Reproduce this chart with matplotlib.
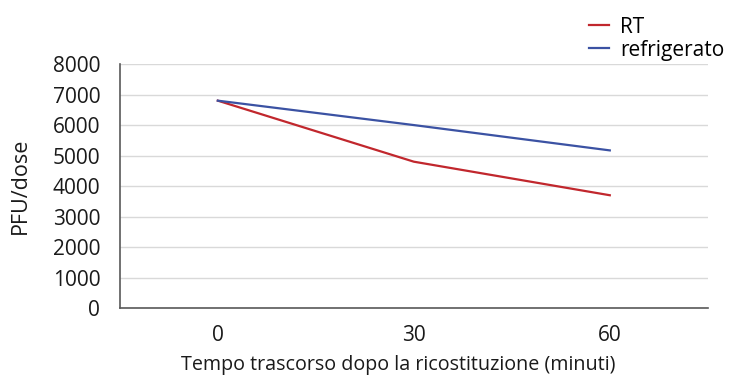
import numpy as np
import matplotlib.pyplot as plt

plt.rcParams['font.family'] = ['Open Sans', 'DejaVu Sans']

# tempo dopo la ricostituzione (minuti) e titolo PFU/dose
tempi = ['0', '30', '60']
pfu_rt = [6800, 4800, 3700]
pfu_frigo = [6800, 6000, 5170]
y_ticks = [0, 1000, 2000, 3000, 4000, 5000, 6000, 7000, 8000]

fig = plt.figure(figsize=(7.35, 3.79), dpi=100)
ax = fig.add_axes([0.163, 0.187, 0.800, 0.644])

x = np.arange(len(tempi))
ax.plot(x, pfu_rt, color='#c1272d', lw=1.6, label='RT')
ax.plot(x, pfu_frigo, color='#3b52a3', lw=1.6, label='refrigerato')

ax.set_xlim(-0.5, len(tempi) - 0.5)
ax.set_ylim(0, 8000)
ax.set_xticks(x)
ax.set_xticklabels(tempi)
ax.set_yticks(y_ticks)
ax.tick_params(length=0, labelsize=15, colors='#1a1a1a', pad=12)
ax.tick_params(axis='y', pad=14)

ax.grid(axis='y', color='#d9d9d9', lw=1)
ax.set_axisbelow(True)
for s in ['top', 'right']:
    ax.spines[s].set_visible(False)
for s in ['left', 'bottom']:
    ax.spines[s].set_color('#595959')
    ax.spines[s].set_linewidth(1.2)

ax.set_xlabel('Tempo trascorso dopo la ricostituzione (minuti)', fontsize=14.2, color='#1a1a1a')
ax.xaxis.set_label_coords(0.473, -0.19)
ax.set_ylabel('PFU/dose', fontsize=15.5, color='#1a1a1a')
ax.yaxis.set_label_coords(-0.152, 0.5)

ax.legend(loc='lower left', bbox_to_anchor=(0.783, 0.98), frameon=False, fontsize=15,
          handlelength=1.0, handletextpad=0.5, labelspacing=0.1, borderaxespad=0)

fig.savefig('out.png', dpi=100)
